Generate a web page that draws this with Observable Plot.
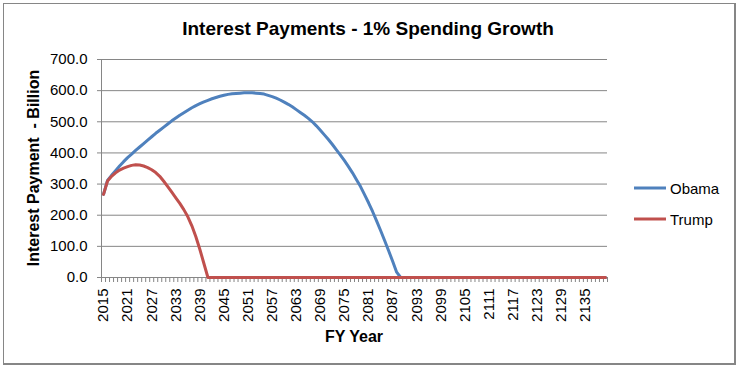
<!DOCTYPE html>
<html>
<head>
<meta charset="utf-8">
<script src="https://cdn.jsdelivr.net/npm/d3@7"></script>
<script src="https://cdn.jsdelivr.net/npm/@observablehq/plot@0.6"></script>
<style>
  html, body { margin: 0; padding: 0; background: #fff; }
  #wrap { position: relative; width: 741px; height: 367px; overflow: hidden; }
  #border { position: absolute; left: 3px; top: 3px; width: 733px; height: 362px; box-sizing: border-box;
            border-left: 1px solid #868686; border-top: 1px solid #868686;
            border-right: 2px solid #868686; border-bottom: 2px solid #868686; pointer-events: none; }
  svg text { font-family: "Liberation Sans", Arial, sans-serif; }
</style>
</head>
<body>
<div id="wrap"><div id="border"></div></div>
<script>
// ---- data ----
const title = "Interest Payments - 1% Spending Growth";
const yTitle = "Interest Payment  - Billion";
const xTitle = "FY Year";
const seriesNames = ["Obama", "Trump"];
const seriesColors = ["#4F81BD", "#C0504D"];

const years = d3.range(2015, 2141); // FY 2015 .. 2140 (categories)

const obama = [
  267, 312, 328, 343, 358,
  372, 385, 396, 408, 419, 430, 441, 452, 463, 473,
  483, 493, 503, 512, 521, 529, 537, 545, 552, 558,
  564, 569, 574, 578, 582, 585, 588, 590, 591, 592,
  593, 593, 593, 592, 591, 589, 585, 581, 576, 570,
  563, 556, 548, 539, 530, 521, 511, 500, 487, 473,
  458, 443, 427, 410, 393, 375, 356, 336, 314, 292,
  266, 240, 212, 182, 151, 119, 86, 52, 17, 0,
  0, 0, 0, 0, 0, 0, 0, 0, 0, 0,
  0, 0, 0, 0, 0, 0, 0, 0, 0, 0,
  0, 0, 0, 0, 0, 0, 0, 0, 0, 0,
  0, 0, 0, 0, 0, 0, 0, 0, 0, 0,
  0, 0, 0, 0, 0, 0, 0, 0, 0, 0,
  0
];

const trump = [
  267, 310, 325, 336, 345,
  351, 356, 360, 362, 361, 358, 353, 346, 337, 325,
  309, 292, 274, 256, 238, 218, 195, 166, 131, 90,
  45, 0, 0, 0, 0, 0, 0, 0, 0, 0,
  0, 0, 0, 0, 0, 0, 0, 0, 0, 0,
  0, 0, 0, 0, 0, 0, 0, 0, 0, 0,
  0, 0, 0, 0, 0, 0, 0, 0, 0, 0,
  0, 0, 0, 0, 0, 0, 0, 0, 0, 0,
  0, 0, 0, 0, 0, 0, 0, 0, 0, 0,
  0, 0, 0, 0, 0, 0, 0, 0, 0, 0,
  0, 0, 0, 0, 0, 0, 0, 0, 0, 0,
  0, 0, 0, 0, 0, 0, 0, 0, 0, 0,
  0, 0, 0, 0, 0, 0, 0, 0, 0, 0,
  0
];

const yTicks = [0, 100, 200, 300, 400, 500, 600, 700];
const xTickLabels = [2015, 2021, 2027, 2033, 2039, 2045, 2051, 2057, 2063, 2069, 2075,
                     2081, 2087, 2093, 2099, 2105, 2111, 2117, 2123, 2129, 2135];

// ---- build ----
const rows = [];
years.forEach((yr, i) => {
  rows.push({year: yr, value: obama[i], series: seriesNames[0]});
  rows.push({year: yr, value: trump[i], series: seriesNames[1]});
});
const boundaries = years.map(y => y - 0.5).concat([years[years.length - 1] + 0.5]);
const grid = "#868686";

const chart = Plot.plot({
  width: 741,
  height: 367,
  marginLeft: 101,
  marginRight: 134,
  marginTop: 59,
  marginBottom: 90,
  style: {fontFamily: "'Liberation Sans', Arial, sans-serif", fontSize: "15px", color: "#000", background: "transparent", overflow: "visible"},
  x: {domain: [years[0] - 0.5, years[years.length - 1] + 0.5]},
  y: {domain: [0, 700]},
  marks: [
    Plot.gridY(yTicks, {stroke: grid, strokeOpacity: 1, strokeWidth: 1}),
    Plot.axisY(yTicks, {tickSize: 4, tickPadding: 10, stroke: grid, tickFormat: d => d.toFixed(1), label: null}),
    Plot.ruleX([years[0] - 0.5], {stroke: grid, strokeWidth: 1}),
    Plot.axisX(boundaries, {tickSize: 5, stroke: grid, tickFormat: () => "", label: null}),
    Plot.axisX(xTickLabels, {tickSize: 0, tickPadding: 11, tickRotate: -90, tickFormat: d => String(d), label: null}),
    Plot.ruleY([0], {stroke: grid, strokeWidth: 1}),
    Plot.line(rows.filter(d => d.series === seriesNames[0]), {x: "year", y: "value", stroke: seriesColors[0], strokeWidth: 3, strokeLinejoin: "round", strokeLinecap: "round"}),
    Plot.line(rows.filter(d => d.series === seriesNames[1]), {x: "year", y: "value", stroke: seriesColors[1], strokeWidth: 3, strokeLinejoin: "round", strokeLinecap: "round"})
  ]
});
document.getElementById("wrap").appendChild(chart);

const svg = d3.select(chart);
svg.append("text").attr("x", 368).attr("y", 35).attr("text-anchor", "middle")
  .attr("font-size", 19).attr("font-weight", "bold").attr("fill", "#000").text(title);
svg.append("text").attr("transform", "translate(39,168) rotate(-90)").attr("text-anchor", "middle")
  .attr("font-size", 16).attr("font-weight", "bold").attr("fill", "#000").text(yTitle);
svg.append("text").attr("x", 354).attr("y", 342).attr("text-anchor", "middle")
  .attr("font-size", 16).attr("font-weight", "bold").attr("fill", "#000").text(xTitle);

const legY = [188, 219];
seriesNames.forEach((name, i) => {
  svg.append("line").attr("x1", 634).attr("x2", 666).attr("y1", legY[i]).attr("y2", legY[i])
    .attr("stroke", seriesColors[i]).attr("stroke-width", 3);
  svg.append("text").attr("x", 670).attr("y", legY[i] + 5.5).attr("font-size", 15)
    .attr("text-anchor", "start").attr("fill", "#000").text(name);
});
</script>
</body>
</html>
